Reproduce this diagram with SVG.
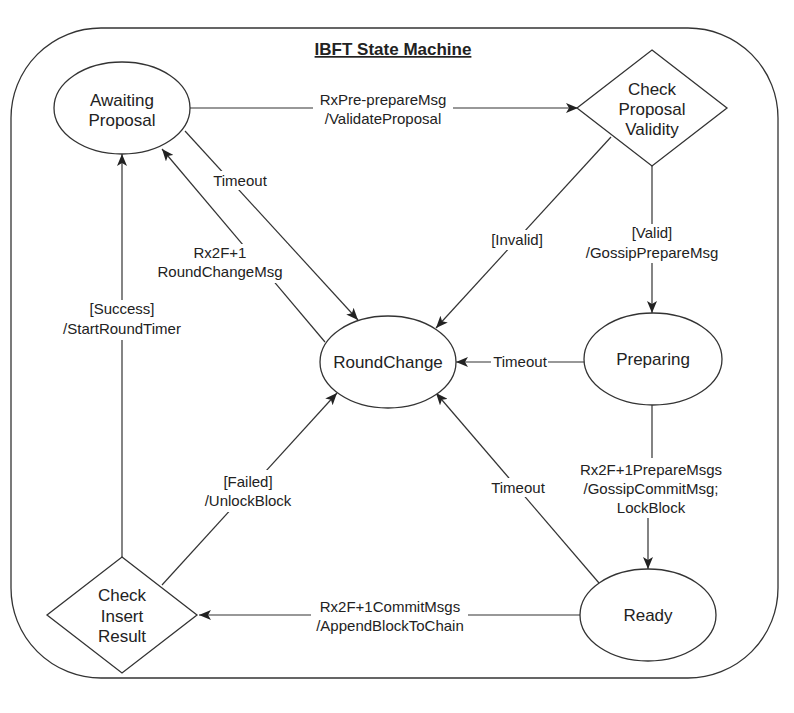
<svg xmlns="http://www.w3.org/2000/svg" width="794" height="713" viewBox="0 0 794 713">
<defs>
<style>
.shape{fill:#fff;stroke:#333;stroke-width:1.3}
.edge{fill:none;stroke:#333;stroke-width:1.2}
.nt{font-family:"Liberation Sans",Arial,sans-serif;font-size:17px;fill:#222;text-anchor:middle}
.et{font-family:"Liberation Sans",Arial,sans-serif;font-size:15px;fill:#222;text-anchor:middle}
.bg{fill:#fff;stroke:none}
</style>
<marker id="arr" viewBox="0 0 12 10" refX="12" refY="5" markerWidth="12" markerHeight="10" markerUnits="userSpaceOnUse" orient="auto">
<path d="M0,0 L12,5 L0,10 L3,5 z" fill="#222"/>
</marker>
</defs>
<rect width="794" height="713" fill="#fff"/>
<g id="frame">
<rect x="11" y="28" width="767" height="650" rx="90" ry="90" fill="none" stroke="#333" stroke-width="1.3"/>
<text x="393" y="55" font-family="Liberation Sans,Arial,sans-serif" font-size="17" font-weight="bold" fill="#222" text-anchor="middle" text-decoration="underline">IBFT State Machine</text>
</g>
<g id="connectors">
<path class="edge" d="M190,108 H578" marker-end="url(#arr)"/>
<path class="edge" d="M652,166 V313" marker-end="url(#arr)"/>
<path class="edge" d="M584,362 H456" marker-end="url(#arr)"/>
<path class="edge" d="M652,405 V490 H648 V569" marker-end="url(#arr)"/>
<path class="edge" d="M580,615 H199" marker-end="url(#arr)"/>
<path class="edge" d="M122,557 V154" marker-end="url(#arr)"/>
<path class="edge" d="M162,585 L337,393" marker-end="url(#arr)"/>
<path class="edge" d="M185,131 L358,320" marker-end="url(#arr)"/>
<path class="edge" d="M325,342 L162,149" marker-end="url(#arr)"/>
<path class="edge" d="M611,137 L436,328" marker-end="url(#arr)"/>
<path class="edge" d="M599,583 L436,393" marker-end="url(#arr)"/>
<g id="edge-labels">
<rect class="bg" x="313" y="90" width="140" height="38"/>
<text class="et" x="383" y="105">RxPre-prepareMsg</text>
<text class="et" x="383" y="124">/ValidateProposal</text>
<rect class="bg" x="211" y="171" width="58" height="19"/>
<text class="et" x="240" y="186">Timeout</text>
<rect class="bg" x="152" y="244" width="136" height="39"/>
<text class="et" x="220" y="258">Rx2F+1</text>
<text class="et" x="220" y="277">RoundChangeMsg</text>
<rect class="bg" x="53" y="300" width="139" height="40"/>
<text class="et" x="122" y="314">[Success]</text>
<text class="et" x="122" y="334">/StartRoundTimer</text>
<rect class="bg" x="488" y="230" width="58" height="20"/>
<text class="et" x="517" y="245">[Invalid]</text>
<rect class="bg" x="580" y="224" width="144" height="39"/>
<text class="et" x="652" y="238">[Valid]</text>
<text class="et" x="652" y="258">/GossipPrepareMsg</text>
<rect class="bg" x="491" y="353" width="57" height="18"/>
<text class="et" x="520" y="367">Timeout</text>
<rect class="bg" x="574" y="458" width="154" height="60"/>
<text class="et" x="651" y="475">Rx2F+1PrepareMsgs</text>
<text class="et" x="651" y="494">/GossipCommitMsg;</text>
<text class="et" x="651" y="513">LockBlock</text>
<rect class="bg" x="489" y="478" width="58" height="19"/>
<text class="et" x="518" y="493">Timeout</text>
<rect class="bg" x="200" y="470" width="96" height="42"/>
<text class="et" x="248" y="487">[Failed]</text>
<text class="et" x="248" y="506">/UnlockBlock</text>
<rect class="bg" x="311" y="596" width="157" height="41"/>
<text class="et" x="390" y="612">Rx2F+1CommitMsgs</text>
<text class="et" x="390" y="631">/AppendBlockToChain</text>
</g>
</g>
<g id="awaiting-proposal">
<ellipse class="shape" cx="122" cy="108" rx="68" ry="46"/>
<text class="nt" x="122" y="106">Awaiting</text>
<text class="nt" x="122" y="126">Proposal</text>
</g>
<g id="check-proposal-validity">
<polygon class="shape" points="652,50 727,108 652,166 577,108"/>
<text class="nt" x="652" y="95">Check</text>
<text class="nt" x="652" y="115">Proposal</text>
<text class="nt" x="652" y="135">Validity</text>
</g>
<g id="round-change">
<ellipse class="shape" cx="388" cy="362" rx="68" ry="46"/>
<text class="nt" x="388" y="368">RoundChange</text>
</g>
<g id="preparing">
<ellipse class="shape" cx="653" cy="359" rx="69" ry="46"/>
<text class="nt" x="653" y="365">Preparing</text>
</g>
<g id="ready">
<ellipse class="shape" cx="648" cy="615" rx="68" ry="46"/>
<text class="nt" x="648" y="621">Ready</text>
</g>
<g id="check-insert-result">
<polygon class="shape" points="122,557 197,615 122,673 47,615"/>
<text class="nt" x="122" y="601">Check</text>
<text class="nt" x="122" y="622">Insert</text>
<text class="nt" x="122" y="642">Result</text>
</g>
</svg>
